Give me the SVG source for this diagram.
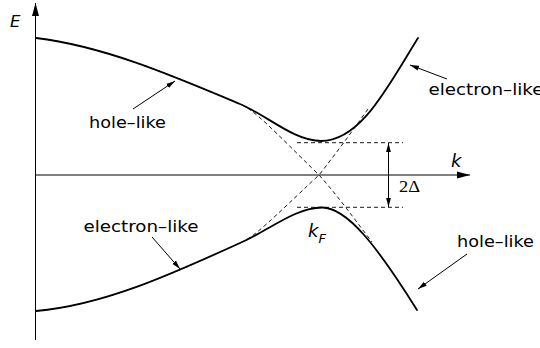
<svg xmlns="http://www.w3.org/2000/svg" width="540" height="348" viewBox="0 0 540 348">
<style>
.axis{stroke:#000;stroke-width:1;fill:none}
.band{stroke:#000;stroke-width:1.8;fill:none;stroke-linecap:round}
.bare{stroke:#000;stroke-width:0.9;fill:none;stroke-dasharray:4 3}
.gap{stroke:#000;stroke-width:0.9;fill:none;stroke-dasharray:4 3}
.ptr{stroke:#000;stroke-width:1;fill:none}
.lbl{font-family:"DejaVu Sans",sans-serif;font-size:15px;fill:#000}
.sym{font-family:"DejaVu Sans",sans-serif;font-style:italic;fill:#000}
.ser{font-family:"Liberation Serif",serif;font-size:16px;fill:#000}
</style>
<defs>
<marker id="ax" markerUnits="userSpaceOnUse" markerWidth="13" markerHeight="8" refX="13" refY="4" orient="auto" viewBox="0 0 13 8">
<path d="M0,0.5 L13,4 L0,7.5 z" fill="#000"/>
</marker>
<marker id="ptrHead" markerUnits="userSpaceOnUse" markerWidth="9" markerHeight="6" refX="9" refY="3" orient="auto" viewBox="0 0 9 6">
<path d="M0,0.5 L9,3 L0,5.5 z" fill="#000"/>
</marker>
<marker id="dim" markerUnits="userSpaceOnUse" markerWidth="9" markerHeight="6" refX="9" refY="3" orient="auto-start-reverse" viewBox="0 0 9 6">
<path d="M0,0.6 L9,3 L0,5.4 z" fill="#000"/>
</marker>
</defs>
<rect width="540" height="348" fill="#fff"/>

<g id="axes">
<line class="axis" x1="35.5" y1="340" x2="35.5" y2="3" marker-end="url(#ax)"/>
<line class="axis" x1="35.5" y1="175" x2="470" y2="175" marker-end="url(#ax)"/>
</g>

<g id="bare-bands">
<path class="bare" d="M36,38 C104,46.2 172,75.4 240,104 C255,110.3 272,129 319,175 C337,194.8 354,218.6 372,242"/>
<path class="bare" d="M36,311 C104,305 172,274 240,243 C255,236.7 272,219 319,175 C334,156 350,134.5 368,109"/>
</g>

<g id="upper-band">
<path class="band" d="M36,38 C104,46.2 172,75.4 240,104 C267,115.3 294,141 321,141 C361,141 388,86 418,38"/>
</g>
<g id="lower-band">
<path class="band" d="M36,311 C104,305 172,274 240,243 C267,231.7 295,207.5 322,207.5 C347,207.5 377,246 417,310"/>
</g>

<g id="gap">
<path class="gap" d="M297,142.7 H403 M297,207.3 H403"/>
<line class="ptr" x1="388.5" y1="143" x2="388.5" y2="207" marker-start="url(#dim)" marker-end="url(#dim)"/>
<text class="ser" x="399" y="192" textLength="21" lengthAdjust="spacingAndGlyphs">2Δ</text>
</g>

<g id="label-E"><text class="sym" x="10" y="27" font-size="16.5">E</text></g>
<g id="label-k"><text class="sym" x="451" y="167" font-size="18">k</text></g>
<g id="label-kF"><text class="sym" x="308" y="237" font-size="18">k<tspan font-size="13" dy="6">F</tspan></text></g>

<g id="label-hole-left"><text class="lbl" x="89" y="128" textLength="77" lengthAdjust="spacingAndGlyphs">hole–like</text></g>
<g id="label-electron-right"><text class="lbl" x="428.5" y="95" textLength="115" lengthAdjust="spacingAndGlyphs">electron–like</text></g>
<g id="label-electron-left"><text class="lbl" x="83.5" y="232" textLength="115" lengthAdjust="spacingAndGlyphs">electron–like</text></g>
<g id="label-hole-right"><text class="lbl" x="457" y="247" textLength="77" lengthAdjust="spacingAndGlyphs">hole–like</text></g>

<g id="connectors">
<line class="ptr" x1="133" y1="109" x2="175" y2="81" marker-end="url(#ptrHead)"/>
<line class="ptr" x1="447" y1="79" x2="410" y2="65" marker-end="url(#ptrHead)"/>
<line class="ptr" x1="152" y1="237" x2="180" y2="269" marker-end="url(#ptrHead)"/>
<line class="ptr" x1="467" y1="254" x2="418" y2="289" marker-end="url(#ptrHead)"/>
</g>
</svg>
